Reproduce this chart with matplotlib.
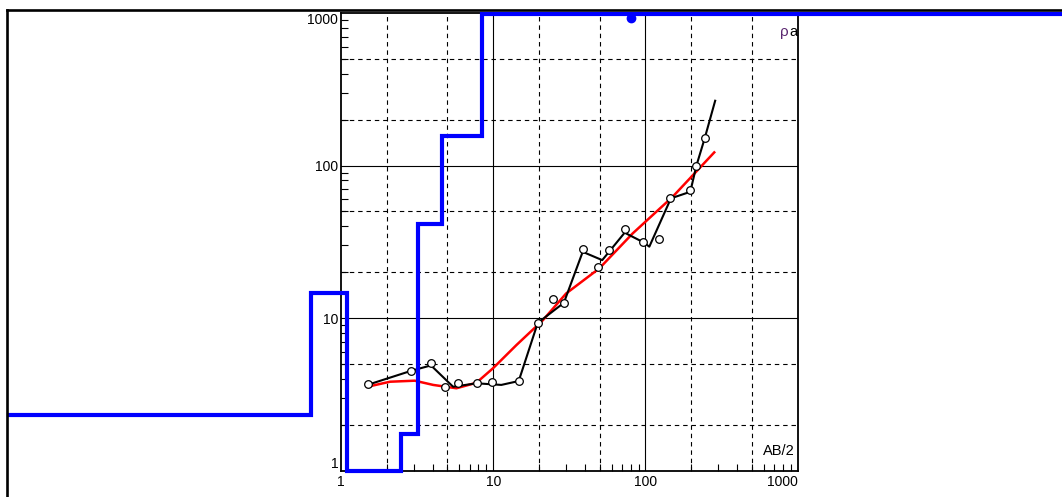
import matplotlib
matplotlib.use("Agg")
import matplotlib.pyplot as plt
from matplotlib.lines import Line2D
from matplotlib.ticker import FixedLocator, NullFormatter

# ==========================
# DATA
# ==========================
# layered model (blue steps): layer boundaries on AB/2 and layer resistivity
layer_ab2 = [0.0066, 0.633, 1.10, 2.48, 3.19, 4.63, 8.41, 1e5]
layer_rho = [2.32, 14.7, 0.99, 1.73, 41.4, 156, 985]

# field measurements (open circles)
ab2_obs = [1.5, 2.9, 3.9, 4.8, 5.9, 7.8, 9.8, 14.7, 19.6, 24.6, 29.0,
           38.7, 48.8, 58.0, 73.0, 97.0, 122, 146, 197, 216, 245]
rho_obs = [3.7, 4.5, 5.05, 3.55, 3.75, 3.75, 3.8, 3.87, 9.25, 13.3, 12.6,
           28.5, 21.5, 27.9, 38.2, 31.4, 33.0, 61.0, 69.0, 100, 151]

# observed curve (black)
ab2_curve = [1.49, 2.9, 3.9, 5.45, 7.75, 11.3, 14.7, 19.6, 29.1, 38.7, 52.0,
             73.0, 97.0, 106, 147, 197, 216, 245, 287]
rho_curve = [3.65, 4.52, 4.9, 3.55, 3.74, 3.65, 3.87, 9.3, 12.6, 27.2, 24.0,
             36.3, 31.4, 29.4, 61.0, 67.3, 99.7, 151, 266]

# model response (red)
ab2_fit = [1.49, 2.1, 3.05, 4.03, 5.73, 7.75, 9.96, 14.2, 21.2, 30.1, 49.8,
           82.4, 151, 283]
rho_fit = [3.55, 3.83, 3.89, 3.65, 3.47, 3.77, 4.69, 6.66, 9.7, 14.5, 21.2,
           35.9, 62.5, 122]

# single marker on the top layer
dot_ab2 = [80]
dot_rho = [925]

decades = [1, 10, 100, 1000]
dec_labels = ["1", "10", "100", "1000"]
grid_25 = [2, 5, 20, 50, 200, 500]
minor = [m * d for d in [1, 10, 100] for m in range(2, 10)]

# ==========================
# FIGURE
# ==========================
plt.rcParams["font.family"] = ["Liberation Sans", "DejaVu Sans"]

fig = plt.figure(figsize=(10.62, 4.97), dpi=100)
ax = fig.add_axes([341 / 1062, 1 - 470.7 / 497, 456.7 / 1062, 457.7 / 497])
ax.set_xscale("log")
ax.set_yscale("log")
ax.set_xlim(1, 1000)
ax.set_ylim(1, 1000)

# grid: solid at decades, dashed at 2 and 5
for v in decades[1:-1]:
    ax.axvline(v, color="black", lw=0.8, zorder=1)
    ax.axhline(v, color="black", lw=0.8, zorder=1)
for v in grid_25:
    ax.axvline(v, color="black", lw=0.8, ls=(0, (4, 3.5)), zorder=1)
    ax.axhline(v, color="black", lw=0.8, ls=(0, (4, 3.5)), zorder=1)

ax.xaxis.set_major_locator(FixedLocator(decades))
ax.yaxis.set_major_locator(FixedLocator(decades))
ax.xaxis.set_minor_locator(FixedLocator(minor))
ax.yaxis.set_minor_locator(FixedLocator(minor))
ax.xaxis.set_minor_formatter(NullFormatter())
ax.yaxis.set_minor_formatter(NullFormatter())
ax.set_xticklabels(dec_labels)
ax.set_yticklabels(dec_labels)
ax.tick_params(which="both", direction="in", colors="black", width=0.8,
               labelsize=10, top=False, right=False)
ax.tick_params(which="major", length=0, pad=3)
ax.tick_params(which="minor", length=5)
ax.tick_params(axis="y", pad=2)

xl = ax.get_xticklabels()
xl[-1].set_horizontalalignment("right")
yl = ax.get_yticklabels()
yl[0].set_verticalalignment("bottom")
yl[-1].set_verticalalignment("top")

for s in ax.spines.values():
    s.set_linewidth(1.3)
    s.set_color("black")

# curves
ax.plot(ab2_fit, rho_fit, color="#ff0000", lw=1.8, zorder=3)
ax.plot(ab2_curve, rho_curve, color="black", lw=1.5, zorder=4)
ax.plot(ab2_obs, rho_obs, ls="none", marker="o", ms=5.5, mfc="white",
        mec="black", mew=0.9, zorder=5)

# layered model
ax.step(layer_ab2, layer_rho + [layer_rho[-1]], where="post", color="#0000ff",
        lw=3, clip_on=False, zorder=6, solid_joinstyle="miter")
ax.plot(dot_ab2, dot_rho, ls="none", marker="o", ms=6, color="#0000ff",
        clip_on=False, zorder=6)

ax.text(1, 0.9585, "a", transform=ax.transAxes, ha="right", va="center",
        fontsize=10.5, color="black")
ax.annotate("\u03c1", xy=(1, 0.9585), xycoords="axes fraction",
            xytext=(-6.3, 0), textcoords="offset points", ha="right",
            va="center", fontsize=11, color="#5a2670")
ax.annotate("AB/2", xy=(1, 0.043), xycoords="axes fraction",
            xytext=(-2, 0), textcoords="offset points", ha="right",
            va="center", fontsize=10.5, color="black")

# outer frame (left and top only)
fig.add_artist(Line2D([7 / 1062, 7 / 1062], [0, 1 - 10 / 497],
                      color="black", lw=1.9, solid_capstyle="projecting"))
fig.add_artist(Line2D([7 / 1062, 1], [1 - 10 / 497, 1 - 10 / 497],
                      color="black", lw=1.9, solid_capstyle="projecting"))

fig.savefig("out.png", dpi=100)
